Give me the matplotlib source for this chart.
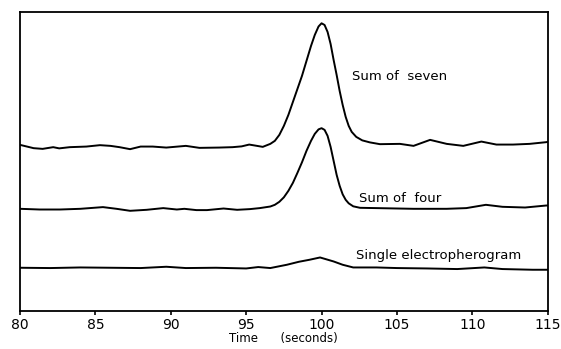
import matplotlib
matplotlib.use("Agg")
import matplotlib.pyplot as plt

# time (s) and trace heights (arbitrary units, traces already stacked)
seven_t = [80.0, 80.9, 81.5, 82.2, 82.6, 83.3, 84.4, 85.3, 86.0, 86.6, 87.3, 88.0,
           88.8, 89.7, 91.0, 91.9, 93.2, 94.1, 94.7, 95.2, 95.6, 96.1, 96.6, 96.9,
           97.2, 97.5, 97.8, 98.1, 98.4, 98.7, 99.0, 99.3, 99.55, 99.8, 100.0,
           100.2, 100.4, 100.6, 100.8, 101.0, 101.2, 101.4, 101.6, 101.8, 102.0,
           102.3, 102.7, 103.2, 103.87, 105.2, 106.1, 107.2, 108.3, 109.4, 110.6,
           111.6, 112.7, 113.8, 114.9, 115.0]
seven_y = [166, 162.7, 162, 163.7, 162.5, 163.7, 164.3, 165.7, 165, 163.7, 161.7, 164.3,
           164.3, 163.3, 165, 163, 163.3, 163.7, 164.5, 166.3, 165.3, 164, 167, 170,
           176, 185, 196, 209, 222, 235, 250, 265, 276, 284.5, 287.7,
           286, 279, 267, 251, 236, 220, 206, 194, 185, 179,
           174, 170.5, 168.5, 166.7, 167, 165, 171, 167, 165, 169.3,
           166.3, 166.3, 167, 168.7, 169]

four_t = [80.0, 81.3, 82.65, 84.0, 85.5, 86.4, 87.3, 88.4, 89.5, 90.4, 90.9, 91.7,
          92.4, 93.5, 94.4, 95.25, 95.9, 96.6, 96.9, 97.2, 97.5, 97.8, 98.1, 98.4,
          98.7, 99.0, 99.3, 99.55, 99.8, 100.0, 100.2, 100.4, 100.6, 100.8, 101.0,
          101.2, 101.4, 101.6, 101.8, 102.1, 102.55, 103.65, 106.1, 108.3, 109.6,
          110.9, 112.0, 113.5, 114.9, 115.0]
four_y = [102, 101.3, 101.3, 102, 103.7, 102, 100, 101, 102.7, 101.3, 102, 100.7,
          100.7, 102.3, 101, 101.7, 102.7, 104.3, 106, 109, 113.5, 120, 128, 138,
          148.5, 160, 170, 177, 181.5, 182.7, 181, 175, 164, 150, 136,
          125, 116.5, 111, 107.5, 104.5, 103, 102.7, 102, 102, 102.7,
          106, 104, 103.3, 105.3, 105.3]

single_t = [80.0, 82.0, 84.0, 86.0, 88.0, 89.7, 91.0, 93.0, 95.0, 95.8, 96.6, 97.7,
            98.5, 99.2, 99.9, 100.8, 101.4, 102.1, 103.65, 105.0, 107.0, 109.0,
            110.8, 112.0, 114.0, 115.0]
single_y = [43, 42.7, 43.3, 43, 42.7, 44, 42.7, 43, 42.3, 43.7, 42.7, 46,
            49, 51, 53.3, 49.3, 46, 43.3, 43.3, 42.7, 42.3, 41.7,
            43.3, 41.7, 41, 41]

x_ticks = [80, 85, 90, 95, 100, 105, 110, 115]

fig = plt.figure(figsize=(5.61, 3.49), dpi=100)
ax = fig.add_axes([0.0357, 0.1097, 0.9406, 0.8568])

for t, y in [(seven_t, seven_y), (four_t, four_y), (single_t, single_y)]:
    ax.plot(t, y, color="black", lw=1.4)

ax.text(102.0, 231, "Sum of  seven", fontsize=9.5)
ax.text(102.5, 109.3, "Sum of  four", fontsize=9.5)
ax.text(102.3, 51.7, "Single electropherogram", fontsize=9.5)

ax.set_xlim(80, 115)
ax.set_ylim(0, 299.3)
ax.set_xticks(x_ticks)
ax.set_yticks([])
ax.tick_params(axis="x", direction="out", length=3, width=1.2, pad=2, labelsize=10)
for s in ax.spines.values():
    s.set_linewidth(1.3)
ax.set_xlabel("Time      (seconds)", fontsize=8.5, labelpad=0)

fig.savefig("out.png", dpi=100)
